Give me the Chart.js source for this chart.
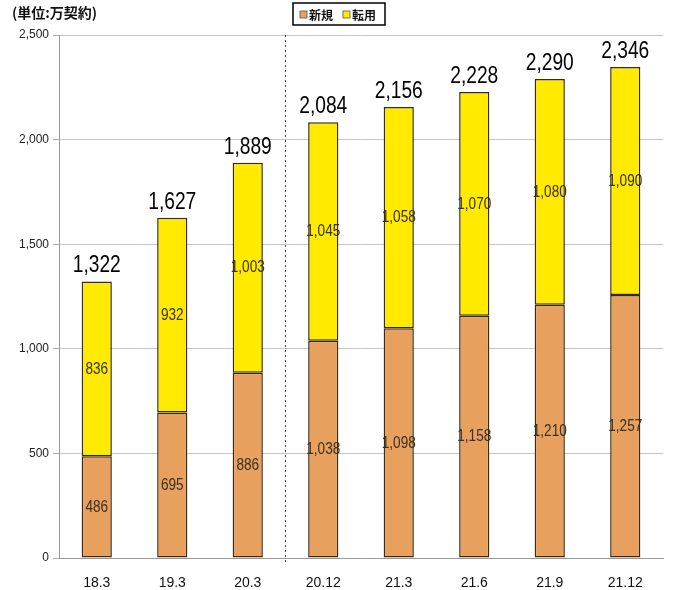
<!DOCTYPE html>
<html><head><meta charset="utf-8">
<script src="https://cdn.jsdelivr.net/npm/chart.js@4/dist/chart.umd.min.js"></script>
<style>html,body{margin:0;padding:0;background:#fff;}canvas{display:block;}</style>
</head><body>
<canvas id="c" width="675" height="590"></canvas>
<script>
const categories = ['18.3','19.3','20.3','20.12','21.3','21.6','21.9','21.12'];
const newContracts = [486, 695, 886, 1038, 1098, 1158, 1210, 1257];
const convertedContracts = [836, 932, 1003, 1045, 1058, 1070, 1080, 1090];
const totals = [1322, 1627, 1889, 2084, 2156, 2228, 2290, 2346];
const seriesNames = ['新規', '転用'];
const unitLabel = '(単位:万契約)';
const yTicks = [0, 500, 1000, 1500, 2000, 2500];

const SANS = '"Liberation Sans", Arial, sans-serif';
const CJK = '"Noto Sans CJK JP", "Noto Sans CJK SC", sans-serif';
const colors = ['#E8A05E', '#FFEA00'];
const fmt = v => v.toLocaleString('en-US');

function narrowText(ctx, t, x, y, sx) {
  ctx.save();
  ctx.translate(x, y);
  ctx.scale(sx, 1);
  ctx.fillText(t, 0, 0);
  ctx.restore();
}

const overlay = {
  id: 'overlay',
  afterDatasetsDraw(chart) {
    const ctx = chart.ctx;
    const x = chart.scales.x, y = chart.scales.y;
    const sx = (x.getPixelForValue(2) + x.getPixelForValue(3)) / 2;
    ctx.save();
    ctx.strokeStyle = '#444';
    ctx.lineWidth = 1;
    ctx.setLineDash([2, 3]);
    ctx.beginPath();
    ctx.moveTo(sx, chart.chartArea.top);
    ctx.lineTo(sx, chart.chartArea.bottom + 4);
    ctx.stroke();
    ctx.restore();

    ctx.save();
    ctx.textAlign = 'center';
    ctx.textBaseline = 'middle';
    ctx.font = '17px ' + SANS;
    ctx.fillStyle = '#3a3020';
    chart.data.datasets.forEach((ds, di) => {
      const meta = chart.getDatasetMeta(di);
      meta.data.forEach((bar, i) => {
        const mid = (bar.y + bar.base) / 2;
        narrowText(ctx, fmt(ds.data[i]), bar.x, mid, 0.8);
      });
    });
    ctx.font = '24px ' + SANS;
    ctx.fillStyle = '#000';
    ctx.textBaseline = 'alphabetic';
    totals.forEach((t, i) => {
      narrowText(ctx, fmt(t), x.getPixelForValue(i), y.getPixelForValue(t) - 9, 0.8);
    });
    ctx.restore();
  },
  afterDraw(chart) {
    const ctx = chart.ctx;
    ctx.save();
    ctx.font = 'bold 14px ' + CJK;
    ctx.fillStyle = '#111';
    ctx.textAlign = 'left';
    ctx.textBaseline = 'middle';
    ctx.fillText(unitLabel, 12, 13);
    const bx = 293, by = 3, bw = 92, bh = 22;
    ctx.fillStyle = '#fff';
    ctx.fillRect(bx, by, bw, bh);
    ctx.strokeStyle = '#000';
    ctx.lineWidth = 1.5;
    ctx.strokeRect(bx, by, bw, bh);
    ctx.font = 'bold 12px ' + CJK;
    let cx = bx + 7;
    seriesNames.forEach((n, i) => {
      ctx.fillStyle = colors[i];
      ctx.fillRect(cx, by + 8, 7, 7);
      ctx.strokeStyle = '#555';
      ctx.lineWidth = 0.8;
      ctx.strokeRect(cx, by + 8, 7, 7);
      ctx.fillStyle = '#111';
      ctx.fillText(n, cx + 9, by + bh / 2 + 1);
      cx += 9 + ctx.measureText(n).width + 10;
    });
    ctx.restore();
  }
};

new Chart(document.getElementById('c'), {
  type: 'bar',
  data: {
    labels: categories,
    datasets: [
      { label: seriesNames[0], data: newContracts, backgroundColor: colors[0], borderColor: '#3a2a10', borderWidth: 1.5, borderSkipped: false },
      { label: seriesNames[1], data: convertedContracts, backgroundColor: colors[1], borderColor: '#3a2a10', borderWidth: 1.5, borderSkipped: false }
    ]
  },
  options: {
    responsive: false,
    animation: false,
    layout: { padding: { top: 35, right: 12, left: 0, bottom: 0 } },
    plugins: { legend: { display: false }, tooltip: { enabled: false } },
    datasets: { bar: { categoryPercentage: 1, barPercentage: 0.4 } },
    scales: {
      x: {
        stacked: true,
        grid: { display: false },
        border: { color: '#999' },
        ticks: { color: '#111', font: { size: 14, family: SANS }, padding: 9 },
        afterFit(s) { s.height = 32; }
      },
      y: {
        stacked: true,
        min: 0, max: 2500,
        afterBuildTicks(s) { s.ticks = yTicks.map(v => ({ value: v })); },
        grid: { color: '#c4c4c4', tickLength: 6, tickColor: '#aaa' },
        border: { color: '#999' },
        ticks: { color: '#222', font: { size: 12, family: SANS }, padding: 4, callback: v => fmt(v) },
        afterFit(s) { s.width = 59; }
      }
    }
  },
  plugins: [overlay]
});
</script>
</body></html>
